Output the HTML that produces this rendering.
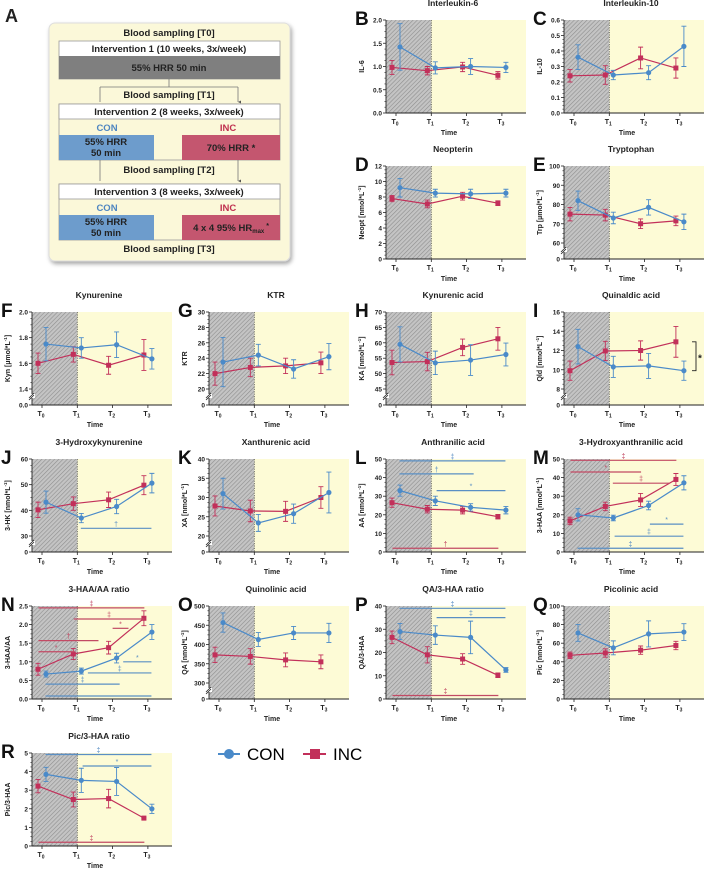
<!DOCTYPE html>
<html><head><meta charset="utf-8"><style>
html,body{margin:0;padding:0;background:#fff;}
svg{display:block;font-family:"Liberation Sans",sans-serif;}
</style></head><body>
<svg id="fig" width="709" height="871" viewBox="0 0 709 871" xmlns="http://www.w3.org/2000/svg">
<defs>
<pattern id="hatch" width="3" height="3" patternUnits="userSpaceOnUse" patternTransform="rotate(45)">
<rect width="3" height="3" fill="#c4c4c4"/><line x1="0" y1="0" x2="0" y2="3" stroke="#8e8e8e" stroke-width="1.2"/>
</pattern>
<filter id="sh" x="-10%" y="-10%" width="125%" height="125%"><feDropShadow dx="1.5" dy="2.5" stdDeviation="2" flood-color="#000" flood-opacity="0.35"/></filter>
<marker id="arr" markerWidth="4" markerHeight="4" refX="2" refY="4" orient="auto"><path d="M0,0 L4,0 L2,4z" fill="#555"/></marker>
</defs>
<g id="panelA" font-weight="bold" font-size="9.5" text-anchor="middle" fill="#222">
<text x="5" y="22" font-size="18" text-anchor="start">A</text>
<rect x="49" y="23" width="241" height="238" rx="6" fill="#fbf8d9" stroke="#ddd" filter="url(#sh)"/>
<text x="169" y="36">Blood sampling [T0]</text>
<rect x="59" y="41" width="221" height="38" fill="#fff" stroke="#999" stroke-width="0.8"/>
<text x="169" y="52">Intervention 1 (10 weeks, 3x/week)</text>
<rect x="59" y="56" width="221" height="23" fill="#7f7f7f"/>
<text x="169" y="71">55% HRR 50 min</text>
<path d="M169,79 V87 M100,87 H238" stroke="#777" stroke-width="0.8" fill="none"/>
<path d="M100,87 V102 M238,87 V102" stroke="#777" stroke-width="0.8" marker-end="url(#arr)" fill="none"/>
<text x="169" y="98">Blood sampling [T1]</text>
<rect x="59" y="104" width="221" height="56" fill="#fbf8d9" stroke="#999" stroke-width="0.8"/>
<rect x="59" y="104" width="221" height="15" fill="#fff" stroke="#999" stroke-width="0.8"/>
<text x="169" y="115">Intervention 2 (8 weeks, 3x/week)</text>
<text x="107" y="131" fill="#4f86c0">CON</text>
<text x="228" y="131" fill="#c0304f">INC</text>
<rect x="59" y="135" width="95" height="25" fill="#6d9ccc"/>
<text x="106" y="145">55% HRR</text><text x="106" y="156">50 min</text>
<rect x="182" y="135" width="98" height="25" fill="#c4566f"/>
<text x="231" y="151">70% HRR *</text>
<path d="M100,160 V181 M238,160 V181" stroke="#777" stroke-width="0.8" marker-end="url(#arr)" fill="none"/>
<text x="169" y="173">Blood sampling [T2]</text>
<rect x="59" y="184" width="221" height="56" fill="#fbf8d9" stroke="#999" stroke-width="0.8"/>
<rect x="59" y="184" width="221" height="15" fill="#fff" stroke="#999" stroke-width="0.8"/>
<text x="169" y="195">Intervention 3 (8 weeks, 3x/week)</text>
<text x="107" y="211" fill="#4f86c0">CON</text>
<text x="228" y="211" fill="#c0304f">INC</text>
<rect x="59" y="215" width="95" height="25" fill="#6d9ccc"/>
<text x="106" y="225">55% HRR</text><text x="106" y="236">50 min</text>
<rect x="182" y="215" width="98" height="25" fill="#c4566f"/>
<text x="231" y="231">4 x 4 95% HR<tspan font-size="6" dy="2">max</tspan><tspan dy="-5" font-size="7"> *</tspan></text>
<text x="169" y="252">Blood sampling [T3]</text>
</g>
<g id="legend">
<g><line x1="218" y1="754" x2="240" y2="754" stroke="#4a8ac9" stroke-width="2"/><circle cx="229" cy="754" r="5" fill="#4a8ac9"/><text x="247" y="760" font-size="17">CON</text></g>
<g><line x1="303" y1="754" x2="326" y2="754" stroke="#c2305a" stroke-width="2"/><rect x="310" y="749" width="10" height="10" fill="#c2305a"/><text x="333" y="760" font-size="17">INC</text></g>
</g>
</svg>
<script>
// ---- data ----
const timeLabels = ["0","1","2","3"];
const il6Con=[1.42,0.97,1.0,0.98], il6ConErr=[0.5,0.13,0.17,0.11], il6Inc=[0.98,0.91,0.99,0.81], il6IncErr=[0.15,0.09,0.1,0.08];
const il10Con=[0.36,0.245,0.26,0.43], il10ConErr=[0.08,0.03,0.045,0.13], il10Inc=[0.24,0.245,0.355,0.29], il10IncErr=[0.04,0.06,0.07,0.065];
const neoCon=[9.2,8.5,8.4,8.5], neoConErr=[1.2,0.5,0.6,0.5], neoInc=[7.8,7.1,8.1,7.2], neoIncErr=[0.4,0.5,0.5,0.3];
const trpCon=[82,73,78.5,71], trpConErr=[5,3,4,4], trpInc=[75,74.5,70,71.5], trpIncErr=[3.5,3,2.5,2.5];
const kynCon=[1.75,1.72,1.745,1.635], kynConErr=[0.13,0.08,0.1,0.08], kynInc=[1.60,1.67,1.585,1.665], kynIncErr=[0.08,0.06,0.07,0.12];
const ktrCon=[23.5,24.4,22.6,24.2], ktrConErr=[3.2,1.4,1.2,1.7], ktrInc=[22,22.8,23,23.4], ktrIncErr=[1.5,1.2,1,1.4];
const kaCon=[59.5,53.5,54.4,56.2], kaConErr=[5.7,3.8,5,3.7], kaInc=[53.6,53.9,58.5,61.3], kaIncErr=[4,3,2.7,3.7];
const qldCon=[12.4,10.3,10.4,9.9], qldConErr=[1.8,1.1,1.3,1], qldInc=[9.9,11.95,12,12.9], qldIncErr=[1,1,1,1.6];
const hkCon=[43.2,37,41.5,50.6], hkConErr=[4.3,1.8,2.8,3.8], hkInc=[40.2,42.6,44.1,49.8], hkIncErr=[3,2.6,3,3.7];
const xaCon=[31,23.4,25.8,31.3], xaConErr=[4,2.2,2.5,5.3], xaInc=[27.8,26.5,26.4,30], xaIncErr=[2.6,2.8,2.6,2.8];
const aaCon=[33,27.5,24,22.5], aaConErr=[3,2.5,2,2], aaInc=[26.5,23,22.5,19], aaIncErr=[2.5,2,2,1.2];
const haaCon=[20,18.3,25,37.2], haaConErr=[3.3,1.5,2.3,3.8], haaInc=[16.7,24.5,28,39], haaIncErr=[2,2.3,3.5,3.2];
const haaAaCon=[0.67,0.75,1.1,1.8], haaAaConErr=[0.08,0.08,0.13,0.2], haaAaInc=[0.8,1.21,1.38,2.17], haaAaIncErr=[0.16,0.15,0.17,0.2];
const qaCon=[457,413,430,430], qaConErr=[25,18,17,25], qaInc=[373,369,360,355], qaIncErr=[20,20,18,18];
const qaHaaCon=[29,27.5,26.5,12.5], qaHaaConErr=[3.5,4,7,1], qaHaaInc=[26.5,19,17.2,10.2], qaHaaIncErr=[2.7,3.5,2.3,1];
const picCon=[71,55,70,72], picConErr=[9,7.5,14,9], picInc=[47,49.5,52.5,57.5], picIncErr=[3.5,4.5,4.5,4.5];
const picHaaCon=[3.85,3.53,3.47,2.0], picHaaConErr=[0.38,0.65,0.75,0.25], picHaaInc=[3.22,2.5,2.55,1.5], picHaaIncErr=[0.36,0.4,0.5,0.05];
// significance bars: [fromIndex, toIndex, value, symbol, group]
const hkSig=[[1.1,3.1,33,"†","con"]];
const aaSig=[[0.1,3.1,49,"‡","con"],[0.1,2.2,42,"†","con"],[1.15,3.1,33,"*","con"],[-0.1,2.9,2,"†","inc"]];
const haaSig=[[-0.1,2.9,49.3,"‡","inc"],[-0.1,1.9,43,"*","inc"],[1.1,2.7,37,"‡","inc"],[2.15,3.1,15,"*","con"],[1.15,3.1,8.5,"‡","con"],[0.1,3.1,2,"‡","con"]];
const haaAaSig=[[-0.1,2.9,2.45,"‡","inc"],[0.9,2.9,2.15,"‡","inc"],[2.0,2.45,1.9,"*","inc"],[-0.1,1.6,1.57,"†","inc"],[-0.1,0.9,1.27,"*","inc"],[2.3,3.1,1.0,"*","con"],[1.3,3.1,0.7,"‡","con"],[0.1,2.2,0.4,"‡","con"],[0.1,3.1,0.08,"","con"]];
const qaHaaSig=[[0.1,3.1,39,"‡","con"],[1.15,3.1,35,"‡","con"],[-0.1,2.9,1.5,"‡","inc"]];
const picHaaSig=[[0.1,3.1,4.92,"‡","con"],[1.15,3.1,4.3,"*","con"],[-0.1,2.9,0.2,"‡","inc"]];
const B_ticks=[0,0.5,1.0,1.5,2.0], C_ticks=[0,0.1,0.2,0.3,0.4,0.5,0.6], D_ticks=[0,2,4,6,8,10,12];
const E_ticks=[60,70,80,90,100], F_ticks=[1.4,1.6,1.8,2.0], G_ticks=[20,22,24,26,28,30], H_ticks=[45,50,55,60,65,70];
const I_ticks=[8,10,12,14,16], J_ticks=[30,40,50,60], K_ticks=[20,25,30,35,40], L_ticks=[0,10,20,30,40,50];
const M_ticks=[0,10,20,30,40,50], N_ticks=[0,0.5,1.0,1.5,2.0,2.5], O_ticks=[300,350,400,450,500], P_ticks=[0,10,20,30,40];
const Q_ticks=[0,20,40,60,80,100], R_ticks=[0,1,2,3,4,5];

const NS="http://www.w3.org/2000/svg";
const svg=document.getElementById('fig');
const BLUE="#4a8ac9", RED="#c2305a";
function el(tag,attrs,parent){const e=document.createElementNS(NS,tag);for(const k in attrs)e.setAttribute(k,attrs[k]);(parent||svg).appendChild(e);return e;}
function fmt(v,ticks){const dec=ticks.some(t=>Math.abs(t-Math.round(t))>1e-9)?1:0;return v.toFixed(dec);}

function panel(p){
  const W=140,H=93,L=p.x,T=p.y,Bm=T+H;
  const g=el('g',{});
  
  
  const ticks=p.ticks, brk=p.brk, lo=ticks[0], hi=ticks[ticks.length-1];
  const ys=v=>{ if(brk){ if(v<=0) return Bm; return (Bm-16)-(v-lo)/(hi-lo)*(H-16);} return Bm-(v-lo)/(hi-lo)*H; };
  const xs=i=>L+10+i*35.3;
  const t1=xs(1);
  el('rect',{x:L,y:T,width:t1-L,height:H,fill:'url(#hatch)'},g);
  el('rect',{x:t1,y:T,width:L+W-t1,height:H,fill:'#fdfbd6'},g);
  el('line',{x1:t1,y1:T,x2:t1,y2:Bm,stroke:'#444','stroke-width':0.7,'stroke-dasharray':'1.2,1.2'},g);
  el('line',{x1:L,y1:T,x2:L,y2:Bm,stroke:'#222','stroke-width':0.9},g);
  el('line',{x1:L,y1:Bm,x2:L+W,y2:Bm,stroke:'#222','stroke-width':0.9},g);
  const allT=brk?[0].concat(ticks):ticks;
  allT.forEach((tv,k)=>{const y=ys(tv);
    el('line',{x1:L-3,y1:y,x2:L,y2:y,stroke:'#222','stroke-width':0.8},g);
    const tx=el('text',{x:L-4,y:y+2.5,'font-size':6.5,'font-weight':'bold','text-anchor':'end',fill:'#222'},g);
    
    
    tx.textContent=fmt(tv,ticks);
    if(k<allT.length-1 && !(brk&&k===0)){const ny=ys(allT[k+1]);for(let m=1;m<4;m++){const my=y+(ny-y)*m/4;el('line',{x1:L-1.6,y1:my,x2:L,y2:my,stroke:'#222','stroke-width':0.6},g);}}
  });
  if(brk){const by=Bm-8;el('rect',{x:L-3,y:by-3,width:6,height:4,fill:'#fff'},g);el('line',{x1:L-3,y1:by+1,x2:L+2,y2:by-4,stroke:'#222','stroke-width':0.8},g);el('line',{x1:L-3,y1:by+3,x2:L+2,y2:by-2,stroke:'#222','stroke-width':0.8},g);}
  timeLabels.forEach((lb,i)=>{const x=xs(i);
    el('line',{x1:x,y1:Bm,x2:x,y2:Bm+3,stroke:'#222','stroke-width':0.8},g);
    const t=el('text',{x:x-1,y:Bm+11,'font-size':7,'font-weight':'bold','text-anchor':'middle',fill:'#222'},g);
    
    
    t.innerHTML='T<tspan font-size="5" dy="1.5">'+lb+'</tspan>';
  });
  const xt=el('text',{x:L+63,y:Bm+22,'font-size':7,'font-weight':'bold','text-anchor':'middle',fill:'#222'},g);
  
  
  xt.textContent='Time';
  const yt=el('text',{x:0,y:0,'font-size':7,'font-weight':'bold','text-anchor':'middle',fill:'#222',transform:`translate(${L-22},${T+H/2}) rotate(-90)`},g);
  
  
  yt.innerHTML=p.ylab;
  const ti=el('text',{x:L+67,y:T-14,'font-size':8.5,'font-weight':'bold','text-anchor':'middle',fill:'#222'},g);
  
  
  ti.textContent=p.title;
  const lt=el('text',{x:L-31,y:T+5,'font-size':19,'font-weight':'bold',fill:'#111'},g);
  
  
  lt.textContent=p.letter;
  [[p.inc,p.incErr,RED,-4,'inc'],[p.con,p.conErr,BLUE,4,'con']].forEach(([vals,errs,col,dx,nm])=>{
    const pts=vals.map((v,i)=>[xs(i)+dx,ys(v)]);
    const ln=el('polyline',{points:pts.map(q=>q.join(',')).join(' '),fill:'none',stroke:col,'stroke-width':1.2},g);
    
    
    vals.forEach((v,i)=>{const x=xs(i)+dx,y1=ys(v+errs[i]),y2=ys(v-errs[i]);
      const eb=el('path',{d:`M${x},${y1}V${y2}M${x-2.5},${y1}H${x+2.5}M${x-2.5},${y2}H${x+2.5}`,stroke:col,'stroke-width':0.9,fill:'none'},g);
      
      
      let mk;
      if(nm==='con') mk=el('circle',{cx:x,cy:ys(v),r:2.6,fill:col},g);
      else mk=el('rect',{x:x-2.5,y:ys(v)-2.5,width:5,height:5,fill:col},g);
      
      
    });
  });
  (p.sig||[]).forEach(s=>{const col=s[4]==='con'?'#5a8fc4':'#c24a64';const y=ys(s[2]);
    const sl=el('line',{x1:xs(s[0]),y1:y,x2:xs(s[1]),y2:y,stroke:col,'stroke-width':1.2},g);
    
    
    if(s[3]){const st=el('text',{x:(xs(s[0])+xs(s[1]))/2,y:y-2,'font-size':7,'text-anchor':'middle',fill:col},g);
      
      
      st.textContent=s[3];}
  });
  if(p.bracket){const y1=ys(p.bracket[0]),y2=ys(p.bracket[1]),bx=L+W-8;
    const br=el('path',{d:`M${bx-4},${y1}H${bx}V${y2}H${bx-4}`,stroke:'#222','stroke-width':0.9,fill:'none'},g);
    
    
    const bt=el('text',{x:bx+2,y:(y1+y2)/2+5,'font-size':10,'font-weight':'bold',fill:'#222'},g);
    
    
    bt.textContent='*';}
}
const U='[nmol*L<tspan font-size="4.5" dy="-3">-1</tspan><tspan dy="3">]</tspan>';
const UM='[µmol*L<tspan font-size="4.5" dy="-3">-1</tspan><tspan dy="3">]</tspan>';
const C=[32,209,386,564], R=[20,166,312,459,606,753];
panel({letter:'B',title:'Interleukin-6',ylab:'IL-6',x:C[2],y:R[0],ticks:B_ticks,con:il6Con,conErr:il6ConErr,inc:il6Inc,incErr:il6IncErr});
panel({letter:'C',title:'Interleukin-10',ylab:'IL-10',x:C[3],y:R[0],ticks:C_ticks,con:il10Con,conErr:il10ConErr,inc:il10Inc,incErr:il10IncErr});
panel({letter:'D',title:'Neopterin',ylab:'Neopt '+U,x:C[2],y:R[1],ticks:D_ticks,con:neoCon,conErr:neoConErr,inc:neoInc,incErr:neoIncErr});
panel({letter:'E',title:'Tryptophan',ylab:'Trp '+UM,x:C[3],y:R[1],ticks:E_ticks,brk:true,con:trpCon,conErr:trpConErr,inc:trpInc,incErr:trpIncErr});
panel({letter:'F',title:'Kynurenine',ylab:'Kyn '+UM,x:C[0],y:R[2],ticks:F_ticks,brk:true,con:kynCon,conErr:kynConErr,inc:kynInc,incErr:kynIncErr});
panel({letter:'G',title:'KTR',ylab:'KTR',x:C[1],y:R[2],ticks:G_ticks,brk:true,con:ktrCon,conErr:ktrConErr,inc:ktrInc,incErr:ktrIncErr});
panel({letter:'H',title:'Kynurenic acid',ylab:'KA '+U,x:C[2],y:R[2],ticks:H_ticks,brk:true,con:kaCon,conErr:kaConErr,inc:kaInc,incErr:kaIncErr});
panel({letter:'I',title:'Quinaldic acid',ylab:'Qld '+U,x:C[3],y:R[2],ticks:I_ticks,brk:true,con:qldCon,conErr:qldConErr,inc:qldInc,incErr:qldIncErr,bracket:[12.9,9.9]});
panel({letter:'J',title:'3-Hydroxykynurenine',ylab:'3-HK '+U,x:C[0],y:R[3],ticks:J_ticks,brk:true,con:hkCon,conErr:hkConErr,inc:hkInc,incErr:hkIncErr,sig:hkSig});
panel({letter:'K',title:'Xanthurenic acid',ylab:'XA '+U,x:C[1],y:R[3],ticks:K_ticks,brk:true,con:xaCon,conErr:xaConErr,inc:xaInc,incErr:xaIncErr});
panel({letter:'L',title:'Anthranilic acid',ylab:'AA '+U,x:C[2],y:R[3],ticks:L_ticks,con:aaCon,conErr:aaConErr,inc:aaInc,incErr:aaIncErr,sig:aaSig});
panel({letter:'M',title:'3-Hydroxyanthranilic acid',ylab:'3-HAA '+U,x:C[3],y:R[3],ticks:M_ticks,con:haaCon,conErr:haaConErr,inc:haaInc,incErr:haaIncErr,sig:haaSig});
panel({letter:'N',title:'3-HAA/AA ratio',ylab:'3-HAA/AA',x:C[0],y:R[4],ticks:N_ticks,con:haaAaCon,conErr:haaAaConErr,inc:haaAaInc,incErr:haaAaIncErr,sig:haaAaSig});
panel({letter:'O',title:'Quinolinic acid',ylab:'QA '+U,x:C[1],y:R[4],ticks:O_ticks,brk:true,con:qaCon,conErr:qaConErr,inc:qaInc,incErr:qaIncErr});
panel({letter:'P',title:'QA/3-HAA ratio',ylab:'QA/3-HAA',x:C[2],y:R[4],ticks:P_ticks,con:qaHaaCon,conErr:qaHaaConErr,inc:qaHaaInc,incErr:qaHaaIncErr,sig:qaHaaSig});
panel({letter:'Q',title:'Picolinic acid',ylab:'Pic '+U,x:C[3],y:R[4],ticks:Q_ticks,con:picCon,conErr:picConErr,inc:picInc,incErr:picIncErr});
panel({letter:'R',title:'Pic/3-HAA ratio',ylab:'Pic/3-HAA',x:C[0],y:R[5],ticks:R_ticks,con:picHaaCon,conErr:picHaaConErr,inc:picHaaInc,incErr:picHaaIncErr,sig:picHaaSig});
</script>
</body></html>
